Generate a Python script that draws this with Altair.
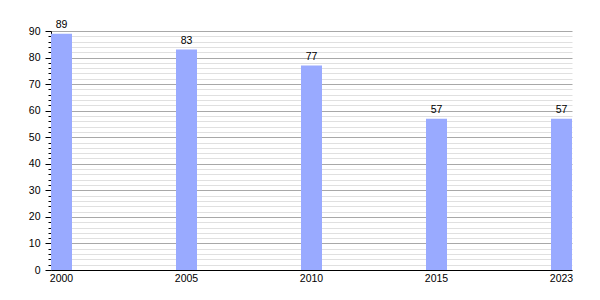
import altair as alt
import pandas as pd

years = ["2000", "2005", "2010", "2015", "2023"]
values = [89, 83, 77, 57, 57]
y_ticks = list(range(0, 92, 2))

df = pd.DataFrame({"year": years, "value": values})

FONT = "Liberation Sans"
FS = 10.5

x = alt.X("year:O", sort=years,
          scale=alt.Scale(paddingInner=0.832, paddingOuter=0, align=0),
          axis=alt.Axis(title=None, labelAngle=0, ticks=False, domainColor="black",
                        domainWidth=1, labelFontSize=FS, labelFont=FONT, labelColor="black",
                        labelPadding=3, labelOverlap=False, grid=False))
y = alt.Y("value:Q", scale=alt.Scale(domain=[0, 90], nice=False, zero=True),
          axis=alt.Axis(title=None, values=y_ticks, tickCount=46,
                        labelExpr="datum.value % 10 == 0 ? datum.label : ''",
                        labelOverlap=False, labelFlush=False, grid=True,
                        gridColor=alt.condition("datum.value % 10 == 0", alt.value("#a8a8a8"), alt.value("#e0e0e0")),
                        tickSize=alt.condition("datum.value % 10 == 0", alt.value(6), alt.value(3)),
                        tickColor="black", domainColor="black", domainWidth=1,
                        labelFontSize=FS, labelFont=FONT, labelColor="black", labelPadding=5))

bars = alt.Chart(df).mark_bar(color="#99aaff").encode(x=x, y=y)
text = alt.Chart(df).mark_text(baseline="bottom", dy=-4, fontSize=FS, font=FONT, color="black").encode(
    x=x, y=y, text="value:Q")

chart = alt.layer(bars, text).properties(
    width=521, height=239,
    autosize=alt.AutoSizeParams(type="none"),
    padding={"left": 51, "top": 31, "right": 28, "bottom": 30},
).configure_view(stroke=None)

chart.save("out.html", embed_options={"renderer": "svg", "actions": False})
